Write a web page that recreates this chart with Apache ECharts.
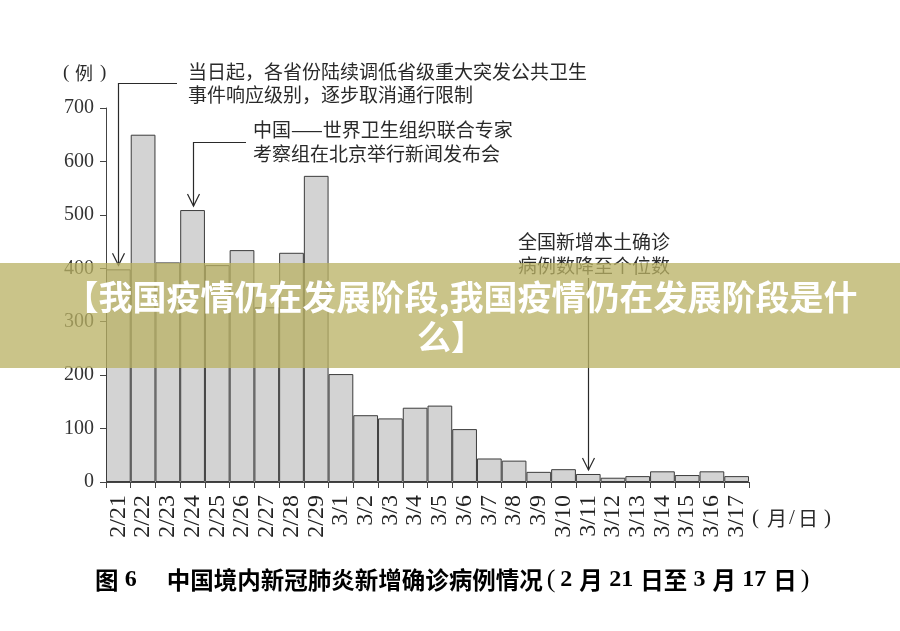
<!DOCTYPE html>
<html>
<head>
<meta charset="utf-8">
<script src="https://cdn.jsdelivr.net/npm/echarts@6/dist/echarts.min.js"></script>
<style>
html,body{margin:0;padding:0;background:#fff;}
#main{width:900px;height:631px;}
</style>
</head>
<body>
<div id="main"></div>
<script>
const dates = ['2/21','2/22','2/23','2/24','2/25','2/26','2/27','2/28','2/29','3/1','3/2','3/3','3/4','3/5','3/6','3/7','3/8','3/9','3/10','3/11','3/12','3/13','3/14','3/15','3/16','3/17'];
const cases = [398,650,411,509,406,434,327,429,573,202,125,119,139,143,99,44,40,19,24,15,8,11,20,13,20,11];
const yTicks = [0,100,200,300,400,500,600,700];
const notes = [
  { date: '2/21', lines: ['当日起，各省份陆续调低省级重大突发公共卫生', '事件响应级别，逐步取消通行限制'] },
  { date: '2/24', lines: ['中国——世界卫生组织联合专家', '考察组在北京举行新闻发布会'] },
  { date: '3/11', lines: ['全国新增本土确诊', '病例数降至个位数'] }
];
const bannerLines = ['【我国疫情仍在发展阶段,我国疫情仍在发展阶段是什', '么】'];

const serif = 'Liberation Serif, DejaVu Serif, serif';
const cjk = 'Noto Sans CJK SC, sans-serif';
const chart = echarts.init(document.getElementById('main'));

chart.setOption({
  backgroundColor: '#fff',
  animation: false,
  grid: { left: 106, right: 151, top: 108, bottom: 149 },
  xAxis: {
    type: 'category',
    data: dates,
    boundaryGap: true,
    axisLine: { lineStyle: { color: '#444', width: 1 } },
    axisTick: { show: true, length: 6, alignWithLabel: false, lineStyle: { color: '#444' } },
    axisLabel: { interval: 0, rotate: 90, margin: 13, fontFamily: serif, fontSize: 24, color: '#222' }
  },
  yAxis: {
    type: 'value',
    min: 0, max: 700, interval: 100,
    axisLine: { show: true, lineStyle: { color: '#444', width: 1 } },
    axisTick: { show: true, length: 6, lineStyle: { color: '#444' } },
    splitLine: { show: false },
    axisLabel: { margin: 12, fontFamily: serif, fontSize: 20, color: '#333',
      formatter: v => yTicks.indexOf(v) >= 0 ? String(v) : '' }
  },
  series: [{
    type: 'bar',
    data: cases,
    barCategoryGap: '0%',
    itemStyle: { color: '#d3d3d3', borderColor: '#3c3c3c', borderWidth: 1 }
  }]
});

function txt(x, y, s, font, extra) {
  return Object.assign({ type: 'text', x: x, y: y, z: 5,
    style: Object.assign({ text: s, font: font, fill: '#2a2a2a', verticalAlign: 'middle' }, extra || {}) });
}

function buildGraphics() {
  const g = [];
  const lineStyle = { stroke: '#2a2a2a', lineWidth: 1.2 };
  const pos = notes.map(n => {
    const i = dates.indexOf(n.date);
    const p = chart.convertToPixel({ seriesIndex: 0 }, [i, cases[i]]);
    return { x: Math.round(p[0]) + 0.5, top: p[1] };
  });
  const arrow = (x, tip) => ({ type: 'polyline', shape: { points: [[x - 6, tip - 12], [x, tip], [x + 6, tip - 12]] }, style: Object.assign({ fill: null }, lineStyle), z: 5 });
  const f19 = '19px ' + cjk;
  // note 1
  const a1 = pos[0];
  g.push({ type: 'polyline', shape: { points: [[177, 83.5], [a1.x, 83.5], [a1.x, a1.top - 4]] }, style: Object.assign({ fill: null }, lineStyle), z: 5 });
  g.push(arrow(a1.x, a1.top - 4));
  g.push(txt(188, 72, notes[0].lines[0], f19));
  g.push(txt(188, 95, notes[0].lines[1], f19));
  // note 2
  const a2 = pos[1];
  g.push({ type: 'polyline', shape: { points: [[246, 142.5], [a2.x, 142.5], [a2.x, a2.top - 4]] }, style: Object.assign({ fill: null }, lineStyle), z: 5 });
  g.push(arrow(a2.x, a2.top - 4));
  g.push(txt(253, 130, notes[1].lines[0], f19));
  g.push(txt(253, 154, notes[1].lines[1], f19));
  // note 3
  const a3 = pos[2];
  g.push({ type: 'polyline', shape: { points: [[a3.x, 278], [a3.x, a3.top - 4]] }, style: Object.assign({ fill: null }, lineStyle), z: 5 });
  g.push(arrow(a3.x, a3.top - 4));
  g.push(txt(518, 242, notes[2].lines[0], f19));
  g.push(txt(518, 266, notes[2].lines[1], f19));
  // axis names
  g.push(txt(63, 73, '(', '19px ' + serif));
  g.push(txt(75, 73, '例', '18px ' + cjk));
  g.push(txt(100, 73, ')', '19px ' + serif));
  g.push(txt(752, 518, '(', '21px ' + serif));
  g.push(txt(767, 518, '月', '20px ' + cjk));
  g.push(txt(789, 518, '/', '21px ' + serif));
  g.push(txt(798, 518, '日', '20px ' + cjk));
  g.push(txt(824, 518, ')', '21px ' + serif));
  // caption
  g.push({ type: 'text', x: 95, y: 580, z: 5, style: {
    text: '{a|图 }{n|6}{a|　 中国境内新冠肺炎新增确诊病例情况}{p|(}{n|2 }{a|月 }{n|21 }{a|日至 }{n|3 }{a|月 }{n|17 }{a|日}{p|)}',
    verticalAlign: 'middle',
    rich: {
      a: { fontFamily: cjk, fontWeight: 'bold', fontSize: 23.5, color: '#1a1a1a' },
      n: { fontFamily: serif, fontWeight: 'bold', fontSize: 24, color: '#1a1a1a', padding: [0, 1, 0, 1] },
      p: { fontFamily: serif, fontSize: 26, color: '#1a1a1a', padding: [0, 4, 0, 4] }
    }
  } });
  // banner overlay
  g.push({ type: 'rect', shape: { x: 0, y: 263, width: 900, height: 105 }, style: { fill: 'rgba(185,178,100,0.76)' }, z: 50 });
  g.push({ type: 'text', x: 461, y: 297, z: 51, style: { text: bannerLines[0], font: 'bold 34px ' + cjk, fill: '#fff', align: 'center', verticalAlign: 'middle' } });
  g.push({ type: 'text', x: 451, y: 337, z: 51, style: { text: bannerLines[1], font: 'bold 34px ' + cjk, fill: '#fff', align: 'center', verticalAlign: 'middle' } });
  return g;
}
chart.setOption({ graphic: buildGraphics() });
</script>
</body>
</html>
